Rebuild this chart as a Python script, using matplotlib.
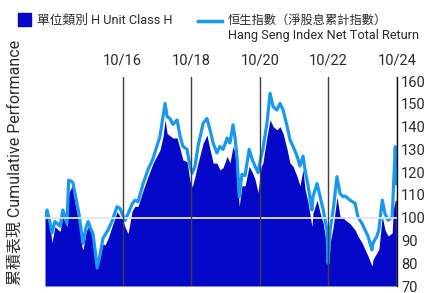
import matplotlib
matplotlib.use("Agg")
import matplotlib.pyplot as plt
from matplotlib.patches import Rectangle
from matplotlib.lines import Line2D

plt.rcParams['font.family'] = ['Roboto', 'Noto Sans CJK TC']

# time in decimal years
years = [2014.49, 2014.55, 2014.64, 2014.69, 2014.78, 2014.93, 2015.01, 2015.13, 2015.18, 2015.28,
         2015.31, 2015.36, 2015.42, 2015.48, 2015.57, 2015.60, 2015.69, 2015.75, 2015.80, 2015.89,
         2015.95, 2016.01, 2016.09, 2016.18, 2016.24, 2016.33, 2016.44, 2016.59, 2016.68, 2016.74,
         2016.82, 2016.91, 2017.03, 2017.11, 2017.20, 2017.35, 2017.49, 2017.64, 2017.78, 2017.84,
         2017.93, 2017.99, 2018.05, 2018.13, 2018.22, 2018.34, 2018.43, 2018.51, 2018.63, 2018.72,
         2018.78, 2018.86, 2018.95, 2019.10, 2019.21, 2019.30, 2019.39, 2019.50, 2019.59, 2019.68,
         2019.80, 2019.88, 2019.97, 2020.03, 2020.09, 2020.15, 2020.23, 2020.32, 2020.44, 2020.53,
         2020.61, 2020.70, 2020.79, 2020.84, 2020.96, 2021.05, 2021.14, 2021.25, 2021.34, 2021.43,
         2021.55, 2021.63, 2021.72, 2021.84, 2021.92, 2022.01, 2022.07, 2022.16, 2022.27, 2022.30,
         2022.42, 2022.51, 2022.60, 2022.71, 2022.74, 2022.80, 2022.89, 2023.00, 2023.09, 2023.18,
         2023.24, 2023.38, 2023.53, 2023.61, 2023.73, 2023.82, 2023.91, 2024.02, 2024.05, 2024.16,
         2024.22, 2024.32, 2024.40, 2024.49, 2024.61, 2024.64, 2024.70, 2024.73]

hsi = [100.5, 103.4, 97.7, 93.3, 98.3, 96.3, 103.4, 97.6, 116.5, 115.8,
       115.0, 111.0, 106.4, 101.7, 91.7, 88.8, 96.0, 98.3, 96.0, 93.0,
       85.8, 77.9, 83.5, 91.0, 92.4, 94.7, 98.3, 104.8, 104.0, 101.7,
       98.8, 101.7, 106.0, 107.7, 107.0, 115.0, 121.0, 126.0, 132.8, 135.6,
       144.4, 150.2, 144.4, 143.6, 141.0, 142.9, 135.6, 131.3, 130.0, 122.4,
       119.6, 122.4, 131.3, 141.5, 143.6, 138.6, 132.8, 128.5, 131.3, 130.0,
       135.0, 132.8, 140.8, 135.0, 126.0, 109.2, 119.0, 118.5, 130.0, 125.6,
       122.7, 119.8, 127.0, 130.0, 141.5, 154.6, 148.7, 147.3, 150.2, 147.3,
       140.0, 134.2, 131.3, 127.0, 122.7, 127.0, 121.0, 113.8, 103.4, 109.2,
       115.0, 109.2, 103.4, 94.6, 80.0, 94.6, 103.4, 118.0, 110.6, 109.2,
       109.5, 107.7, 106.3, 100.4, 97.5, 94.6, 91.7, 85.9, 88.8, 91.7,
       94.6, 107.7, 101.8, 98.9, 100.3, 110.6, 131.2, 115.0]

class_h = [100.0, 101.0, 96.0, 89.0, 96.0, 94.0, 100.5, 96.0, 110.7, 114.0,
           111.0, 107.0, 102.0, 98.0, 87.0, 86.0, 94.0, 96.0, 95.0, 91.0,
           83.0, 81.0, 82.0, 88.5, 88.0, 91.0, 96.0, 102.6, 100.5, 100.0,
           96.0, 93.0, 103.0, 105.0, 105.0, 112.0, 118.0, 124.0, 128.0, 129.7,
           135.6, 143.0, 137.0, 136.0, 135.0, 135.0, 130.0, 125.4, 124.6, 115.8,
           113.5, 118.0, 124.0, 132.8, 136.3, 130.0, 124.0, 124.0, 121.0, 122.0,
           127.0, 124.0, 131.3, 128.5, 117.0, 105.0, 114.0, 114.0, 122.6, 120.0,
           117.0, 111.0, 122.6, 124.0, 135.6, 143.0, 140.0, 138.6, 140.0, 137.0,
           129.8, 124.0, 122.6, 118.0, 114.0, 121.0, 112.5, 106.5, 96.0, 102.0,
           107.7, 102.0, 97.5, 87.0, 77.0, 88.8, 96.0, 109.2, 100.6, 100.0,
           99.0, 97.4, 94.6, 92.0, 89.0, 86.0, 83.0, 78.7, 81.6, 84.5,
           86.0, 100.6, 94.6, 92.0, 93.3, 103.4, 107.7, 107.7]

tick_years = [2016.75, 2018.75, 2020.75, 2022.75, 2024.75]
tick_labels = ['10/16', '10/18', '10/20', '10/22', '10/24']
y_ticks = [70, 80, 90, 100, 110, 120, 130, 140, 150, 160]

dark_blue = '#0508c8'
light_blue = '#1898ee'
text_col = '#2b2b2b'

fig = plt.figure(figsize=(4.29, 2.93), dpi=100)
ax = fig.add_axes([45 / 429, 7 / 293, 352 / 429, 209 / 293])

ax.fill_between(years, 70, class_h, color=dark_blue, lw=0, zorder=1)
ax.plot(years, hsi, color=light_blue, lw=2.3, zorder=2)
ax.axhline(100, color='#e4e4f2', lw=1.3, zorder=3)
for ty in tick_years:
    ax.axvline(ty, color='#404040', lw=1, zorder=4)

ax.set_xlim(2014.49, 2024.75)
ax.set_ylim(70, 161.8)

ax.xaxis.tick_top()
ax.set_xticks(tick_years)
ax.set_xticklabels(tick_labels)
ax.yaxis.tick_right()
ax.set_yticks(y_ticks)
ax.tick_params(axis='x', length=0, pad=7, labelsize=10.5, colors=text_col)
ax.tick_params(axis='y', length=0, pad=3, labelsize=10.5, colors=text_col)

for s in ['left', 'top', 'bottom']:
    ax.spines[s].set_visible(False)
ax.spines['right'].set_color('#111111')
ax.spines['right'].set_linewidth(1)

fig.text(15 / 429, 1 - 162 / 293, '累積表現 Cumulative Performance', rotation=90,
         ha='center', va='center', fontsize=11.5, color=text_col)

# legend
fig.patches.append(Rectangle((18 / 429, 1 - 26 / 293), 13 / 429, 13 / 293,
                             transform=fig.transFigure, color=dark_blue))
fig.text(37 / 429, 1 - 20 / 293, '單位類別 H Unit Class H', ha='left', va='center',
         fontsize=9.2, color=text_col)
fig.lines.append(Line2D([198 / 429, 222 / 429], [1 - 21 / 293, 1 - 21 / 293],
                        transform=fig.transFigure, color=light_blue, lw=2.5))
fig.text(228 / 429, 1 - 20 / 293, '恒生指數（淨股息累計指數）', ha='left', va='center',
         fontsize=8.8, color=text_col)
fig.text(228 / 429, 1 - 36 / 293, 'Hang Seng Index Net Total Return', ha='left', va='center',
         fontsize=9.2, color=text_col)

fig.savefig('out.png', dpi=100)
